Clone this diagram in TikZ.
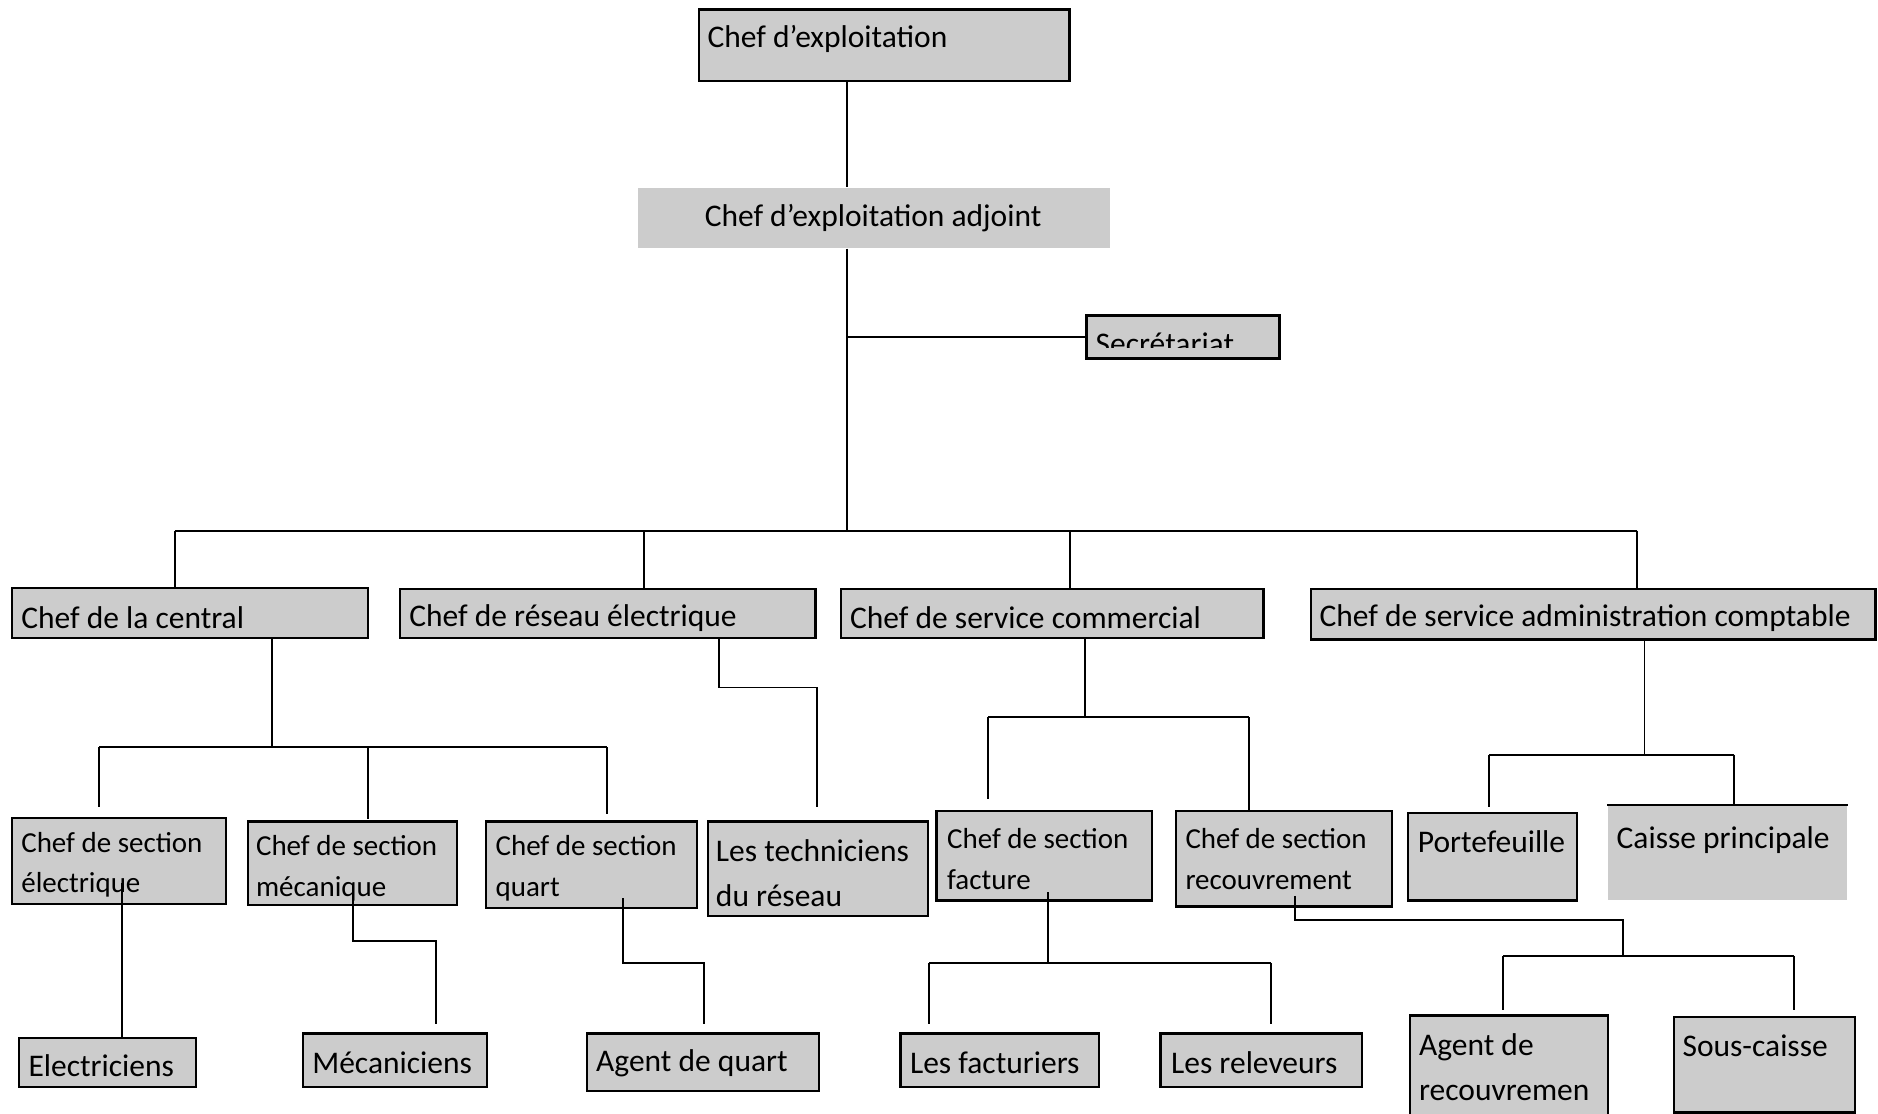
\documentclass[tikz,border=0pt]{standalone}
\usepackage{fontspec}
\setmainfont{Carlito}
\definecolor{boxgray}{HTML}{CCCCCC}
\begin{document}
\begin{tikzpicture}[x=1pt,y=-1pt,line width=1.6pt,line join=miter,
	box/.style={draw,line width=1.8pt,fill=boxgray,anchor=north west,inner sep=0pt},
	flat/.style={fill=boxgray,anchor=north west,inner sep=0pt},
	txt/.style={anchor=west,inner sep=0pt,font=\fontsize{26.3}{37}\selectfont,align=left},
	txts/.style={txt,font=\fontsize{24.2}{34}\selectfont}]
	\useasboundingbox[fill=white] (0,0) rectangle (1568,930);
	% direction
	\node[box,minimum width=309pt,minimum height=60pt] (chef) at (583,7) {};
	\node[txt] (chef-t) at (590,32.5) {Chef d’exploitation};
	\node[flat,minimum width=394pt,minimum height=50pt] (adj) at (532,156) {};
	\node[txt,anchor=center] (adj-t) at (729,182.5) {Chef d’exploitation adjoint};
	\node[box,minimum width=160pt,minimum height=35pt] (sec) at (907,263) {};
	\begin{scope}
		\clip (907,263) rectangle (1067,290);
		\node[txt,anchor=base west] (sec-t) at (914,296) {Secrétariat};
	\end{scope}
	\draw[line width=1.8pt] (sec.north west) rectangle (sec.south east);
	% chefs de service
	\node[box,minimum width=297pt,minimum height=42pt] (central) at (9,490) {};
	\node[txt] (central-t) at (17,516) {Chef de la central};
	\node[box,minimum width=347pt,minimum height=41pt] (reseau) at (333,491) {};
	\node[txt] (reseau-t) at (341,516) {Chef de réseau électrique};
	\node[box,minimum width=353pt,minimum height=41pt] (commercial) at (701,491) {};
	\node[txt] (commercial-t) at (709,516) {Chef de service commercial};
	\node[box,minimum width=471pt,minimum height=42pt] (admin) at (1094,491) {};
	\node[txt] (admin-t) at (1101,516) {Chef de service administration comptable};
	% sections
	\node[box,minimum width=179pt,minimum height=72pt] (selec) at (9,682) {};
	\node[txts] (selec-t) at (17,722) {Chef de section\\électrique};
	\node[box,minimum width=175pt,minimum height=70pt] (smeca) at (206,685) {};
	\node[txts] (smeca-t) at (213,725) {Chef de section\\mécanique};
	\node[box,minimum width=176pt,minimum height=72pt] (squart) at (405,685) {};
	\node[txts] (squart-t) at (413,725) {Chef de section\\quart};
	\node[box,minimum width=184pt,minimum height=79pt] (techn) at (590,685) {};
	\node[txt] (techn-t) at (597,729) {Les techniciens\\du réseau};
	\node[box,minimum width=180pt,minimum height=75pt] (sfact) at (781,676) {};
	\node[txts] (sfact-t) at (790,717) {Chef de section\\facture};
	\node[box,minimum width=180pt,minimum height=80pt] (srecv) at (981,676) {};
	\node[txts] (srecv-t) at (989,717) {Chef de section\\recouvrement};
	\node[box,minimum width=141pt,minimum height=73pt] (porte) at (1175,678) {};
	\node[txt] (porte-t) at (1183,703) {Portefeuille};
	\node[flat,minimum width=199pt,minimum height=79pt] (caisse) at (1342,672) {};
	\draw[line width=1.8pt] (caisse.north west) -- (caisse.north east);
	\node[txt] (caisse-t) at (1349,701) {Caisse principale};
	% agents
	\node[box,minimum width=148pt,minimum height=41pt] (electr) at (15,866) {};
	\node[txt] (electr-t) at (23,890) {Electriciens};
	\node[box,minimum width=154pt,minimum height=45pt] (meca) at (252,862) {};
	\node[txt] (meca-t) at (260,887) {Mécaniciens};
	\node[box,minimum width=194pt,minimum height=48pt] (agentq) at (489,862) {};
	\node[txt] (agentq-t) at (497,888) {Agent de quart};
	\node[box,minimum width=166pt,minimum height=45pt] (factu) at (751,862) {};
	\node[txt] (factu-t) at (759,887) {Les facturiers};
	\node[box,minimum width=168pt,minimum height=45pt] (relev) at (968,862) {};
	\node[txt] (relev-t) at (977,887) {Les releveurs};
	\node[box,minimum width=166pt,minimum height=95pt] (agentr) at (1176,847) {};
	\node[txt] (agentr-t) at (1184,891) {Agent de\\recouvremen};
	\node[box,minimum width=151pt,minimum height=80pt] (sousc) at (1397,848) {};
	\node[txt] (sousc-t) at (1404,873) {Sous-caisse};
	% liaisons
	\coordinate (t) at (707,443);
	\draw (chef.south -| t) -- (adj.north -| t) (adj.south -| t) -- (t);
	\draw (t |- sec.west) -- (sec.west);
	\draw (146,443) -- (1367,443);
	\foreach \x/\n in {146/central,538/reseau,893/commercial,1367/admin}
		\draw (\x,443) -- (\x,443 |- \n.north);
	% central
	\draw (227,0 |- central.south) -- (227,624);
	\draw (83,624) -- (507,624);
	\draw[shorten >=8pt] (83,624) -- (83,0 |- selec.north);
	\draw[shorten >=1pt] (307,624) -- (307,0 |- smeca.north);
	\draw[shorten >=5pt] (507,624) -- (507,0 |- squart.north);
	% reseau
	\draw[shorten >=11pt] (600,0 |- reseau.south) -- (600,574) -- (682,574) -- (682,0 |- techn.north);
	% commercial
	\draw (906,0 |- commercial.south) -- (906,599);
	\draw (825,599) -- (1043,599);
	\draw[shorten >=9pt] (825,599) -- (825,0 |- sfact.north);
	\draw (1043,599) -- (1043,0 |- srecv.north);
	% administration
	\draw (1373,0 |- admin.south) -- (1373,630);
	\draw (1243,630) -- (1448,630);
	\draw[shorten >=4pt] (1243,630) -- (1243,0 |- porte.north);
	\draw (1448,630) -- (1448,0 |- caisse.north);
	% sections vers agents
	\coordinate (e1) at (102,737);
	\draw (e1) -- (e1 |- electr.north);
	\coordinate (e2) at (295,740);
	\draw[shorten >=7pt] (e2) -- (295,786) -- (364,786) -- (364,0 |- meca.north);
	\coordinate (e3) at (520,750);
	\draw[shorten >=7pt] (e3) -- (520,804) -- (588,804) -- (588,0 |- agentq.north);
	\coordinate (e4) at (875,745);
	\draw (e4) -- (875,804);
	\draw (776,804) -- (1061,804);
	\draw[shorten >=7pt] (776,804) -- (776,0 |- factu.north);
	\draw[shorten >=7pt] (1061,804) -- (1061,0 |- relev.north);
	\coordinate (e5) at (1081,748);
	\draw (e5) -- (1081,768) -- (1355,768) -- (1355,798);
	\draw (1255,798) -- (1498,798);
	\draw[shorten >=4pt] (1255,798) -- (1255,0 |- agentr.north);
	\draw[shorten >=5pt] (1498,798) -- (1498,0 |- sousc.north);
\end{tikzpicture}
\end{document}
